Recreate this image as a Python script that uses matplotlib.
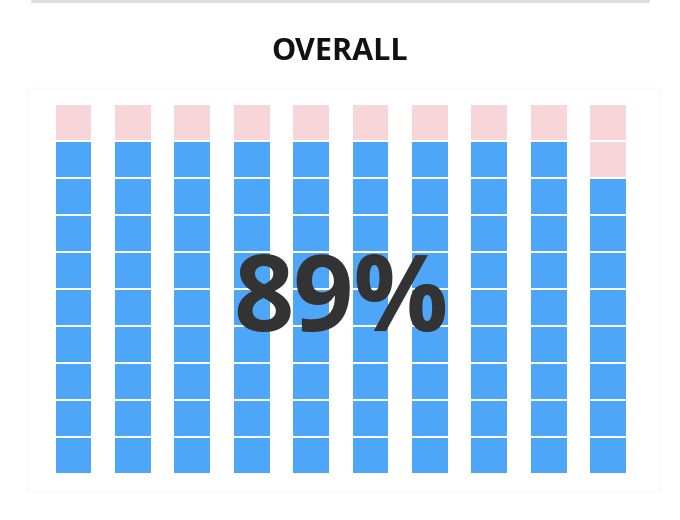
import numpy as np
import matplotlib.pyplot as plt
from matplotlib.patches import Rectangle
from matplotlib.lines import Line2D

# --- DATA ---
title = 'OVERALL'
percent = 89          # filled cells out of 100
n_rows = 10
n_cols = 10
filled_color = '#4da6f8'
empty_color = '#f7d5d9'

# row-major fill from bottom-left
idx = np.arange(n_rows)[:, None] * n_cols + np.arange(n_cols)[None, :]
filled = idx < percent

fig = plt.figure(figsize=(6.8, 5.2), dpi=100)

# faint frame + top rule
fig.patches.append(Rectangle((27 / 680, 1 - 491 / 520), 633 / 680, 403 / 520,
                             transform=fig.transFigure, fill=False,
                             edgecolor='#f8f8f8', lw=1))
fig.lines.append(Line2D([32 / 680, 648 / 680], [1 - 1 / 520, 1 - 1 / 520],
                        transform=fig.transFigure, color='#dcdcdc', lw=2))

ax = fig.add_axes([43.8 / 680, 46 / 520, 594 / 680, 370 / 520])
ax.set_xlim(-0.5, n_cols - 0.5)
ax.set_ylim(0, n_rows)
ax.axis('off')

cols = np.arange(n_cols)
for r in range(n_rows):
    colors = [filled_color if f else empty_color for f in filled[r]]
    ax.bar(cols, 0.96, bottom=r + 0.02, width=0.605, color=colors,
           edgecolor='none')

fig.text(0.5, 1 - 52 / 520, title, ha='center', va='center',
         fontsize=22, fontweight='bold', family='Open Sans', color='#111111')
ax.text(4.5, (520 - 290 - 46) / 370, f'{percent}%',
        transform=ax.get_xaxis_transform(),
        ha='center', va='center_baseline', fontsize=76, fontweight='bold',
        family='Open Sans', color='#333333')

fig.savefig('out.png', dpi=100)
